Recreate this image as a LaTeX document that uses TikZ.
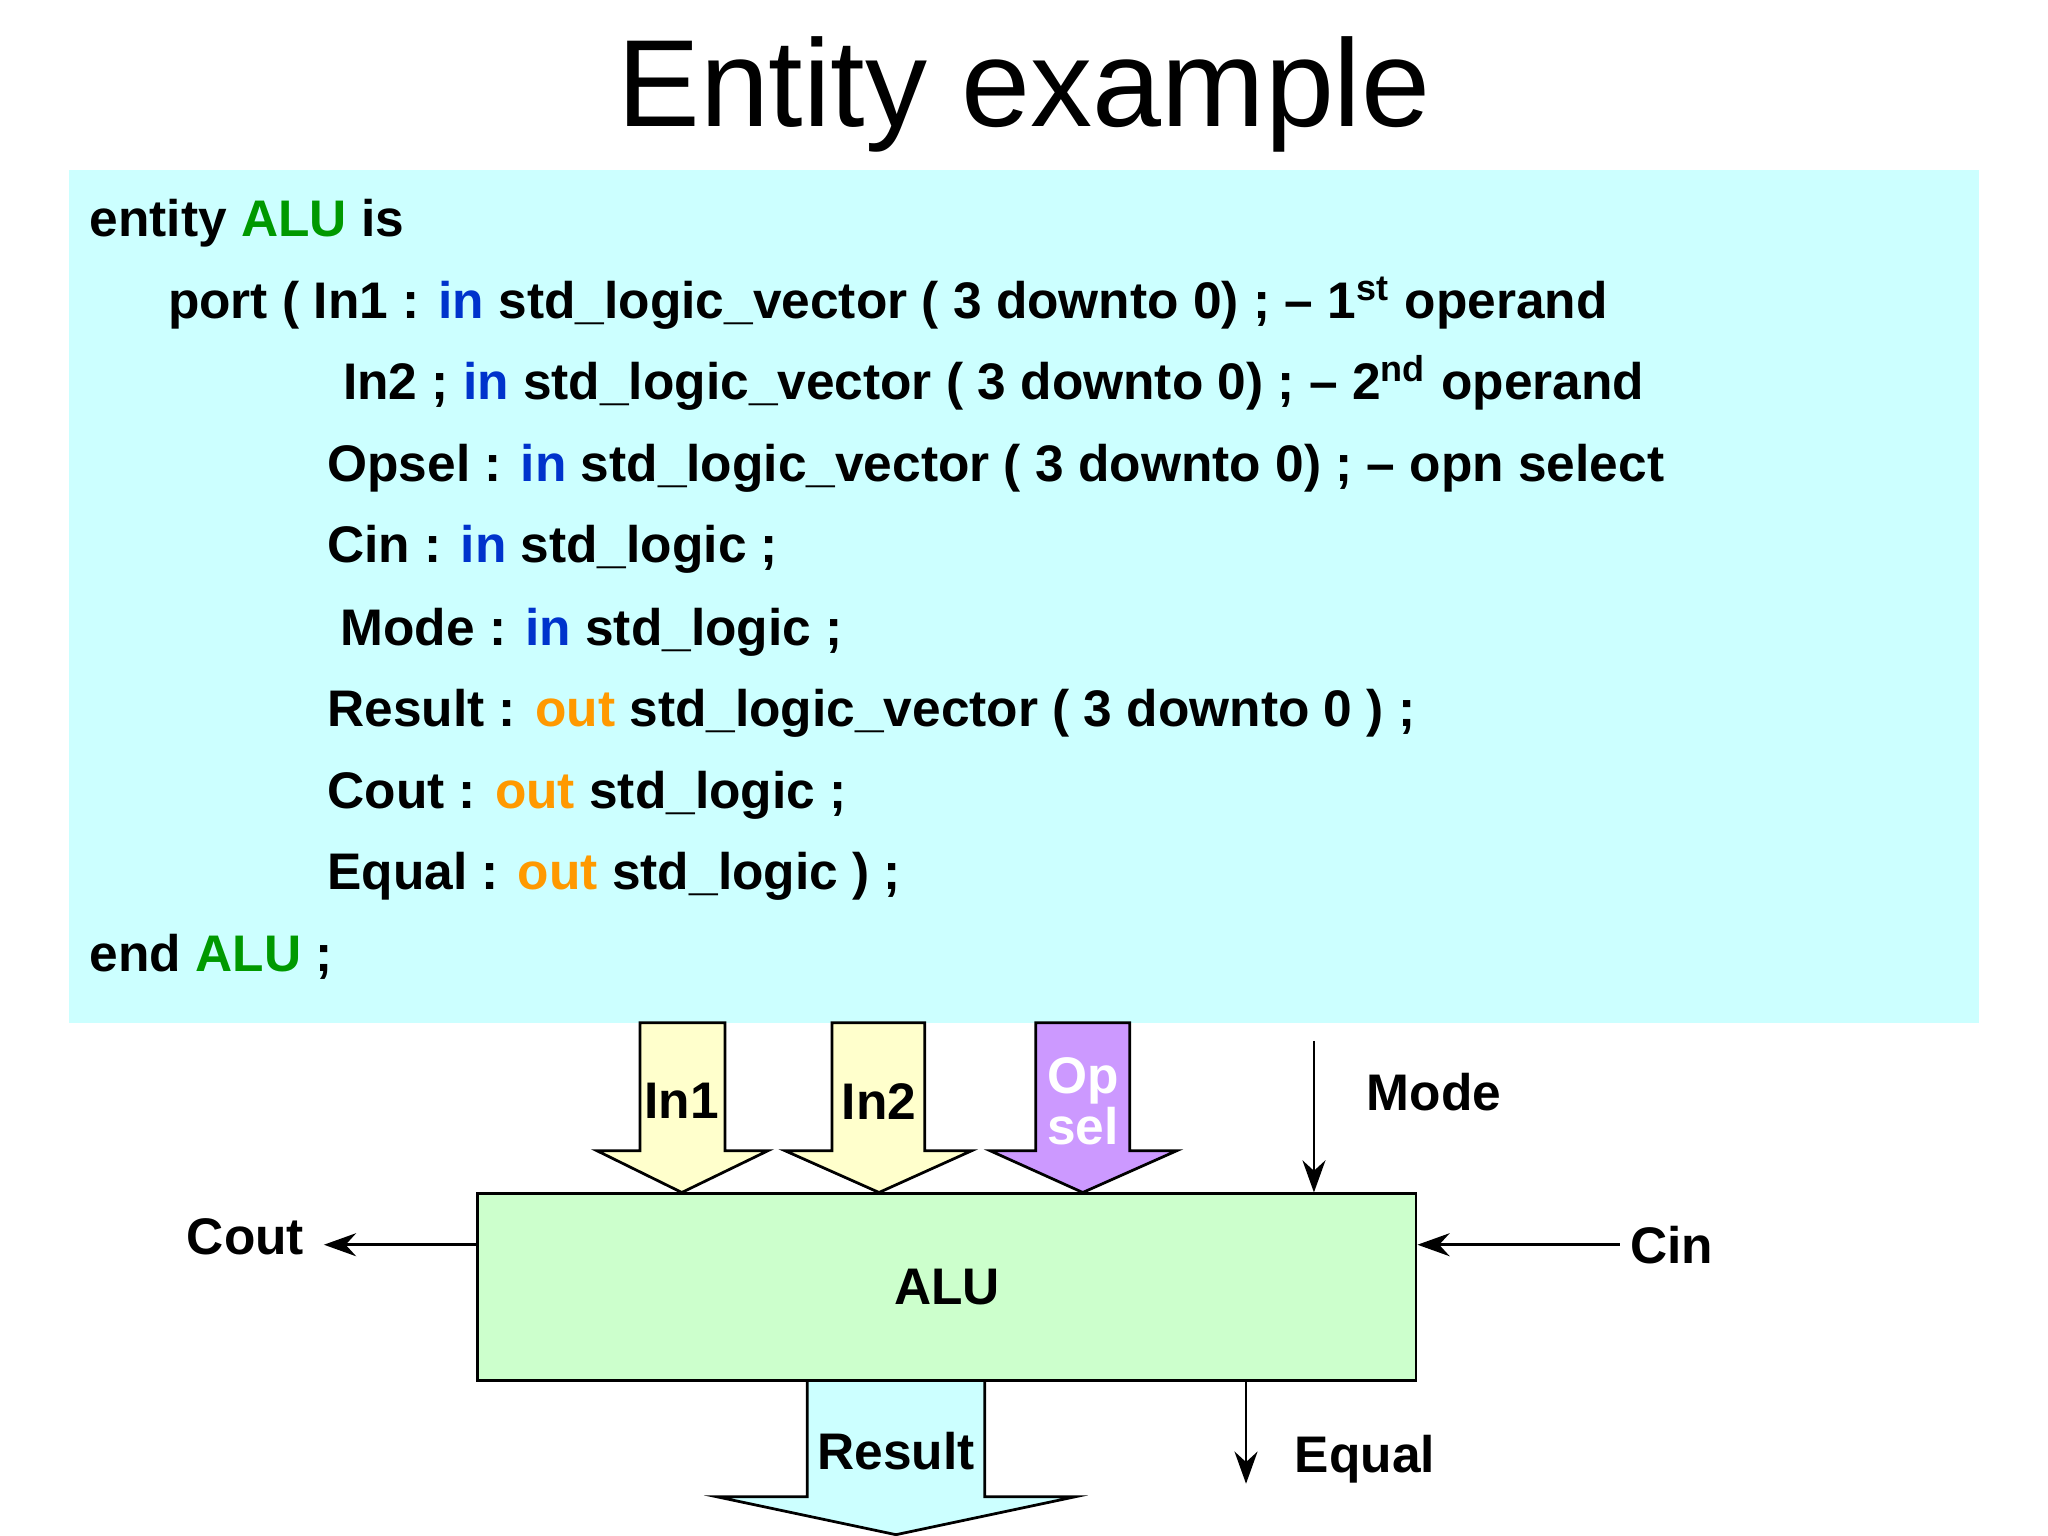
\documentclass[tikz,border=0pt]{standalone}
\usepackage{fontspec}
\usetikzlibrary{arrows.meta}
\setmainfont{Liberation Sans}
\definecolor{cy}{HTML}{CCFFFF}
\definecolor{gr}{HTML}{009900}
\definecolor{bl}{HTML}{0033CC}
\definecolor{orn}{HTML}{FF9900}
\definecolor{lg}{HTML}{CCFFCC}
\definecolor{ly}{HTML}{FFFFCC}
\definecolor{lv}{HTML}{CC99FF}
\newcommand{\kwG}[1]{\textcolor{gr}{#1}}
\newcommand{\kwB}[1]{\textcolor{bl}{#1}}
\newcommand{\kwO}[1]{\textcolor{orn}{#1}}
\begin{document}
\begin{tikzpicture}[x=0.01cm,y=-0.01cm,
  code/.style={anchor=base west,inner sep=0pt,font=\fontsize{11.2}{13}\selectfont\bfseries},
  lbl/.style={inner sep=0pt,font=\fontsize{11.2}{13}\selectfont\bfseries},
  blk/.style={draw=black,line width=0.6pt},
  wire/.style={draw=black,line width=0.6pt,-{Stealth[length=7pt,width=5pt]}}]
\useasboundingbox (0,0) rectangle (1568,1176);
\node[inner sep=0pt,font=\fontsize{27}{30}\selectfont] (title) at (784,72) {Entity example};
\fill[cy] (53,130) rectangle (1515,783);
\node[code] (l1) at (68,181) {entity \kwG{ALU} is};
\node[code] (l2) at (128,244) {port ( In1 : \kwB{in} std\_logic\_vector ( 3 downto 0) ; -- 1\textsuperscript{st} operand};
\node[code] (l3) at (262,306) {In2 ; \kwB{in} std\_logic\_vector ( 3 downto 0) ; -- 2\textsuperscript{nd} operand};
\node[code] (l4) at (250,369) {Opsel : \kwB{in} std\_logic\_vector ( 3 downto 0) ; -- opn select};
\node[code] (l5) at (250,431) {Cin : \kwB{in} std\_logic ;};
\node[code] (l6) at (260,494) {Mode : \kwB{in} std\_logic ;};
\node[code] (l7) at (250,556) {Result : \kwO{out} std\_logic\_vector ( 3 downto 0 ) ;};
\node[code] (l8) at (250,619) {Cout : \kwO{out} std\_logic ;};
\node[code] (l9) at (250,681) {Equal : \kwO{out} std\_logic ) ;};
\node[code] (l10) at (68,744) {end \kwG{ALU} ;};
% ALU
\node[blk,fill=lg,minimum width=7.18cm,minimum height=1.43cm,inner sep=0pt,font=\fontsize{11.2}{13}\selectfont\bfseries] (alu) at (725,985.5) {ALU};
% block arrows
\draw[blk,fill=ly] (490,783) -- (555,783) -- (555,881) -- (588,881) -- (522,913) -- (457,881) -- (490,881) -- cycle;
\node[lbl] (in1) at (522,843) {In1};
\draw[blk,fill=ly] (637,783) -- (708,783) -- (708,881) -- (744,881) -- (673,913) -- (601,881) -- (637,881) -- cycle;
\node[lbl] (in2) at (673,843) {In2};
\draw[blk,fill=lv] (793,783) -- (865,783) -- (865,881) -- (901,881) -- (829,913) -- (758,881) -- (793,881) -- cycle;
\node[lbl,text=white,align=center] (op) at (829,843) {Op\\[-2pt]sel};
\draw[blk,fill=cy] (618,1057) -- (754,1057) -- (754,1146) -- (823,1146) -- (686,1175) -- (549,1146) -- (618,1146) -- cycle;
\node[lbl] (res) at (686,1111) {Result};
% wires
\coordinate (mtop) at (1006,797);
\coordinate (mbot) at (1006,913);
\draw[wire] (mtop) -- (mbot);
\node[lbl] (mode) at (1098,836) {Mode};
\coordinate (coutL) at (248,953);
\draw[wire] (alu.west|-coutL) -- (coutL);
\node[lbl] (cout) at (188,947) {Cout};
\coordinate (cinR) at (1240,953);
\draw[wire] (cinR) -- (alu.east|-cinR);
\node[lbl] (cin) at (1280,953) {Cin};
\coordinate (eqT) at (954,1058);
\coordinate (eqB) at (954,1136);
\draw[wire] (eqT) -- (eqB);
\node[lbl] (eq) at (1045,1117) {Equal};
\end{tikzpicture}
\end{document}
